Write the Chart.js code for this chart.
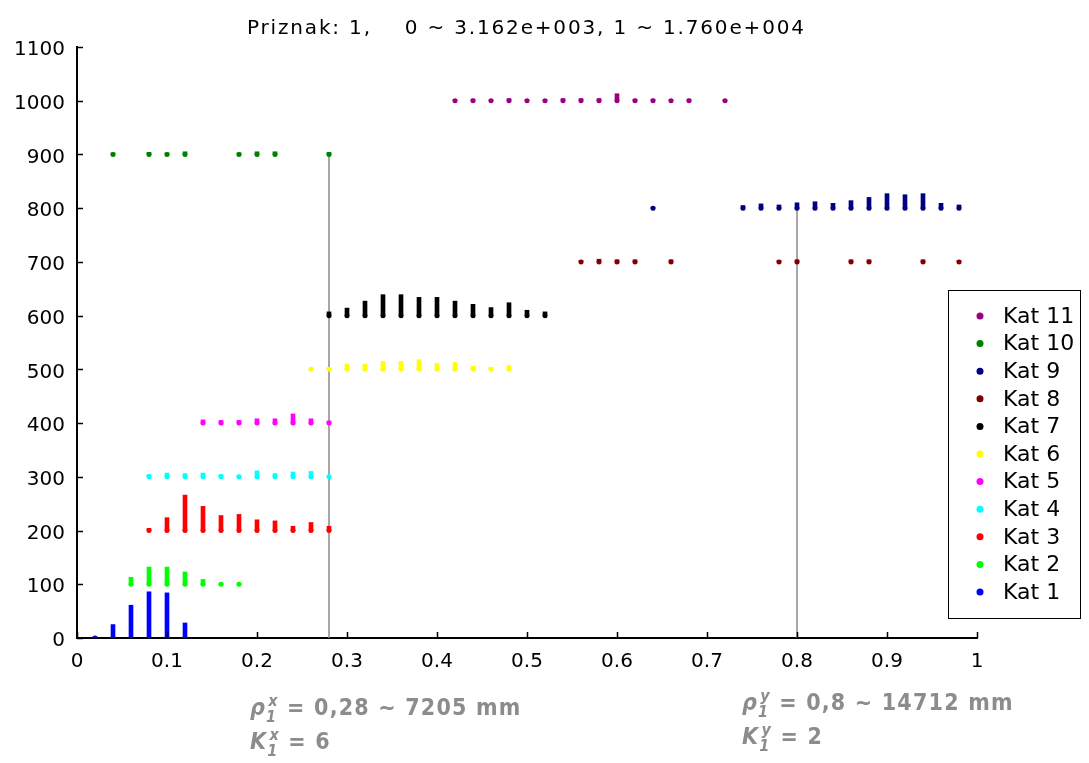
<!DOCTYPE html>
<html>
<head>
<meta charset="utf-8">
<script src="https://cdn.jsdelivr.net/npm/chart.js@4.4.1/dist/chart.umd.min.js"></script>
<style>
  html, body { margin: 0; padding: 0; background: #fff; }
  #wrap { position: relative; width: 1089px; height: 763px; overflow: hidden; }
  #chart { position: absolute; left: 0; top: 0; }
  .ann {
    position: absolute;
    font-family: "Liberation Sans Narrow", "DejaVu Sans Condensed", sans-serif;
    font-weight: bold;
    font-size: 23px;
    letter-spacing: 1.2px;
    color: #8c8c8c;
    line-height: 34px;
    white-space: nowrap;
  }
  .ann i { font-style: italic; }
  .ann sub, .ann sup {
    font-size: 16px;
    font-style: italic;
    vertical-align: baseline;
    position: relative;
    line-height: 0;
  }
  .ann sub { top: 0.45em; }
  .ann sup { top: -0.55em; margin-left: -9px; }
</style>
</head>
<body>
<div id="wrap">
  <canvas id="chart" width="1089" height="763"></canvas>
  <div class="ann" style="left:250px; top:690px;"><i>ρ</i><sub>1</sub><sup>x</sup> = 0,28 ~ 7205 mm<br><i>K</i><sub>1</sub><sup>x</sup> = 6</div>
  <div class="ann" style="left:742px; top:685px;"><i>ρ</i><sub>1</sub><sup>y</sup> = 0,8 ~ 14712 mm<br><i>K</i><sub>1</sub><sup>y</sup> = 2</div>
</div>
<script>
const titleText = 'Priznak: 1,    0 ~ 3.162e+003, 1 ~ 1.760e+004';

const categories = ['Kat 1', 'Kat 2', 'Kat 3', 'Kat 4', 'Kat 5', 'Kat 6', 'Kat 7', 'Kat 8', 'Kat 9', 'Kat 10', 'Kat 11'];
const katBase = [0, 100, 200, 300, 400, 500, 600, 700, 800, 900, 1000];
const katColors = ['#0000ff', '#00ff00', '#ff0000', '#00ffff', '#ff00ff', '#ffff00', '#000000', '#800000', '#000080', '#008000', '#9a0080'];

// x positions and stem heights (above the category base) per category
const xKat1 = [0.02, 0.04, 0.06, 0.08, 0.10, 0.12];
const hKat1 = [3, 25, 61, 86, 84, 28];
const xKat2 = [0.06, 0.08, 0.10, 0.12, 0.14, 0.16, 0.18];
const hKat2 = [13, 32, 32, 23, 9, 2, 2];
const xKat3 = [0.08, 0.10, 0.12, 0.14, 0.16, 0.18, 0.20, 0.22, 0.24, 0.26, 0.28];
const hKat3 = [4, 24, 66, 45, 28, 30, 20, 18, 8, 15, 8];
const xKat4 = [0.08, 0.10, 0.12, 0.14, 0.16, 0.18, 0.20, 0.22, 0.24, 0.26, 0.28];
const hKat4 = [4, 7, 6, 7, 4, 3, 11, 6, 9, 10, 2];
const xKat5 = [0.14, 0.16, 0.18, 0.20, 0.22, 0.24, 0.26, 0.28];
const hKat5 = [6, 5, 5, 8, 8, 17, 8, 4];
const xKat6 = [0.26, 0.28, 0.30, 0.32, 0.34, 0.36, 0.38, 0.40, 0.42, 0.44, 0.46, 0.48];
const hKat6 = [3, 3, 10, 10, 15, 15, 18, 11, 13, 6, 4, 7];
const xKat7 = [0.28, 0.30, 0.32, 0.34, 0.36, 0.38, 0.40, 0.42, 0.44, 0.46, 0.48, 0.50, 0.52];
const hKat7 = [7, 14, 27, 39, 39, 34, 34, 27, 21, 15, 24, 10, 7];
const xKat8 = [0.56, 0.58, 0.60, 0.62, 0.66, 0.78, 0.80, 0.86, 0.88, 0.94, 0.98];
const hKat8 = [3, 5, 4, 4, 4, 3, 4, 4, 4, 4, 3];
const xKat9 = [0.64, 0.74, 0.76, 0.78, 0.80, 0.82, 0.84, 0.86, 0.88, 0.90, 0.92, 0.94, 0.96, 0.98];
const hKat9 = [2, 5, 8, 6, 10, 12, 9, 14, 20, 27, 25, 27, 9, 6];
const xKat10 = [0.04, 0.08, 0.10, 0.12, 0.18, 0.20, 0.22, 0.28];
const hKat10 = [3, 4, 3, 5, 3, 5, 5, 4];
const xKat11 = [0.42, 0.44, 0.46, 0.48, 0.50, 0.52, 0.54, 0.56, 0.58, 0.60, 0.62, 0.64, 0.66, 0.68, 0.72];
const hKat11 = [2, 3, 2, 4, 2, 2, 4, 4, 4, 13, 3, 3, 2, 3, 2];

const seriesX = [xKat1, xKat2, xKat3, xKat4, xKat5, xKat6, xKat7, xKat8, xKat9, xKat10, xKat11];
const seriesH = [hKat1, hKat2, hKat3, hKat4, hKat5, hKat6, hKat7, hKat8, hKat9, hKat10, hKat11];

// vertical marker lines
const markX = [0.28, 0.8];
const markTop = [900, 800];

const xTicks = [0, 0.1, 0.2, 0.3, 0.4, 0.5, 0.6, 0.7, 0.8, 0.9, 1];
const xTickLabels = ['0', '0.1', '0.2', '0.3', '0.4', '0.5', '0.6', '0.7', '0.8', '0.9', '1'];
const yTicks = [0, 100, 200, 300, 400, 500, 600, 700, 800, 900, 1000, 1100];
const yTickLabels = ['0', '100', '200', '300', '400', '500', '600', '700', '800', '900', '1000', '1100'];

const tickFont = { family: 'DejaVu Sans', size: 20 };

const datasets = [];
categories.forEach((name, k) => {
  datasets.push({
    type: 'bar',
    label: name,
    data: seriesX[k].map((x, i) => ({ x: x, y: [katBase[k], katBase[k] + seriesH[k][i]] })),
    backgroundColor: katColors[k],
    barThickness: 4,
    grouped: false,
    order: 1,
  });
  datasets.push({
    type: 'scatter',
    label: name + ' base',
    data: seriesX[k].map((x) => ({ x: x, y: katBase[k] })),
    backgroundColor: katColors[k],
    pointRadius: 2.5,
    borderWidth: 0,
    order: 0,
  });
});
markX.forEach((x, i) => {
  datasets.push({
    type: 'line',
    label: 'mark ' + i,
    data: [{ x: x, y: 0 }, { x: x, y: markTop[i] }],
    borderColor: '#8a8a8a',
    borderWidth: 1.5,
    pointRadius: 0,
    order: 5,
  });
});

const decorations = {
  id: 'decorations',
  afterDraw(chart) {
    const ctx = chart.ctx;
    const area = chart.chartArea;
    const sx = chart.scales.x;
    const sy = chart.scales.y;
    ctx.save();

    // inward tick marks
    ctx.strokeStyle = '#000';
    ctx.lineWidth = 1.5;
    ctx.beginPath();
    xTicks.forEach((v) => {
      const px = Math.round(sx.getPixelForValue(v)) + 0.5;
      ctx.moveTo(px, area.bottom);
      ctx.lineTo(px, area.bottom - 6);
    });
    yTicks.forEach((v) => {
      const py = Math.round(sy.getPixelForValue(v)) + 0.5;
      ctx.moveTo(area.left, py);
      ctx.lineTo(area.left + 6, py);
    });
    ctx.stroke();

    // title
    ctx.font = '20px "DejaVu Sans"';
    ctx.fillStyle = '#000';
    ctx.textBaseline = 'alphabetic';
    ctx.textAlign = 'left';
    const w = ctx.measureText(titleText).width;
    const spacing = Math.max(0, (557 - w) / (titleText.length - 1));
    ctx.letterSpacing = spacing + 'px';
    ctx.fillText(titleText, 247, 34);
    ctx.letterSpacing = '0px';

    // legend box
    ctx.lineWidth = 1;
    ctx.strokeRect(948.5, 290.5, 132, 328);
    ctx.font = '22px "DejaVu Sans"';
    ctx.textBaseline = 'middle';
    for (let k = categories.length - 1, row = 0; k >= 0; k--, row++) {
      const y = 316 + row * 27.6;
      ctx.fillStyle = katColors[k];
      ctx.beginPath();
      ctx.arc(980, y, 3.5, 0, Math.PI * 2);
      ctx.fill();
      ctx.fillStyle = '#000';
      ctx.fillText(categories[k], 1003, y + 1);
    }
    ctx.restore();
  },
};

new Chart(document.getElementById('chart').getContext('2d'), {
  type: 'bar',
  data: { datasets: datasets },
  options: {
    responsive: false,
    animation: false,
    layout: { padding: { left: 0, top: 47, right: 112, bottom: 85 } },
    plugins: {
      legend: { display: false },
      tooltip: { enabled: false },
      title: { display: false },
    },
    scales: {
      x: {
        type: 'linear',
        min: 0,
        max: 1,
        offset: false,
        afterBuildTicks: (s) => { s.ticks = xTicks.map((v) => ({ value: v })); },
        afterFit: (s) => { s.height = 40; },
        grid: { display: false, drawTicks: false },
        border: { color: '#000', width: 2 },
        ticks: {
          font: tickFont, color: '#000', padding: 12, maxRotation: 0, autoSkip: false,
          callback: (v, i) => xTickLabels[i],
        },
      },
      y: {
        type: 'linear',
        min: 0,
        max: 1100,
        afterBuildTicks: (s) => { s.ticks = yTicks.map((v) => ({ value: v })); },
        afterFit: (s) => { s.width = 77; },
        grid: { display: false, drawTicks: false },
        border: { color: '#000', width: 2 },
        ticks: {
          font: tickFont, color: '#000', padding: 12, labelOffset: 3, autoSkip: false,
          callback: (v, i) => yTickLabels[i],
        },
      },
    },
  },
  plugins: [decorations],
});
</script>
</body>
</html>
